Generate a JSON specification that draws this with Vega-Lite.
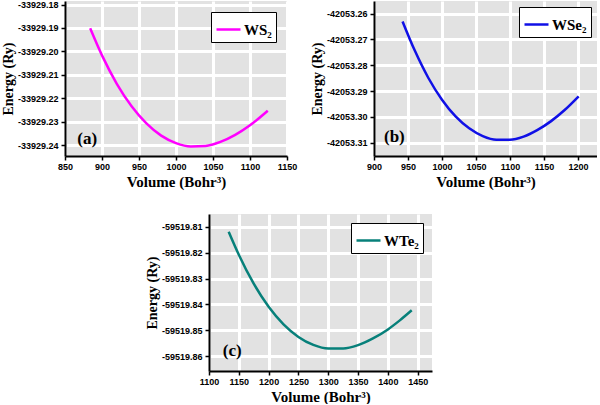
{
  "$schema": "https://vega.github.io/schema/vega-lite/v6.json",
  "padding": {"left": 1, "top": 0, "right": 0, "bottom": 0},
  "background": "white",
  "config": {
    "view": {"fill": "#e2e2e2", "stroke": null},
    "axis": {"grid": true, "tickCount": 30, "labelOverlap": false, "labelFlush": false, "labelFont": "Liberation Sans", "labelFontWeight": "bold", "labelFontSize": 9, "labelColor": "black", "titleFont": "Liberation Serif", "titleFontWeight": "bold", "titleColor": "black", "domainColor": "black", "domainWidth": 2, "tickColor": "black", "tickWidth": 1.5, "tickSize": 4, "gridColor": "#ffffff", "gridWidth": 3, "gridOpacity": 1},
    "axisX": {"titleFontSize": 15, "titlePadding": 3, "labelPadding": 2, "format": "d"},
    "axisY": {"titleFontSize": 14, "titlePadding": 2, "labelPadding": 3},
    "legend": {"fillColor": "white", "strokeColor": "black", "padding": 4, "labelFont": "Liberation Serif", "labelFontWeight": "bold", "labelFontSize": 15, "labelColor": "black", "symbolType": "stroke", "symbolStrokeWidth": 2.5, "symbolSize": 576, "offset": 11, "labelOffset": 2, "orient": "top-right"}
  },
  "datasets": {
    "a": [
      {"V": 884, "E": -33929.1901, "m": "WS₂"},
      {"V": 900, "E": -33929.2017, "m": "WS₂"},
      {"V": 920, "E": -33929.2138, "m": "WS₂"},
      {"V": 940, "E": -33929.2234, "m": "WS₂"},
      {"V": 960, "E": -33929.2307, "m": "WS₂"},
      {"V": 980, "E": -33929.2359, "m": "WS₂"},
      {"V": 1000, "E": -33929.2391, "m": "WS₂"},
      {"V": 1020, "E": -33929.2405, "m": "WS₂"},
      {"V": 1040, "E": -33929.2403, "m": "WS₂"},
      {"V": 1060, "E": -33929.2386, "m": "WS₂"},
      {"V": 1080, "E": -33929.2356, "m": "WS₂"},
      {"V": 1100, "E": -33929.2315, "m": "WS₂"},
      {"V": 1124, "E": -33929.2253, "m": "WS₂"}
    ],
    "b": [
      {"V": 942, "E": -42053.2630, "m": "WSe₂"},
      {"V": 960, "E": -42053.2743, "m": "WSe₂"},
      {"V": 980, "E": -42053.2849, "m": "WSe₂"},
      {"V": 1000, "E": -42053.2933, "m": "WSe₂"},
      {"V": 1020, "E": -42053.2998, "m": "WSe₂"},
      {"V": 1040, "E": -42053.3044, "m": "WSe₂"},
      {"V": 1060, "E": -42053.3074, "m": "WSe₂"},
      {"V": 1080, "E": -42053.3088, "m": "WSe₂"},
      {"V": 1100, "E": -42053.3088, "m": "WSe₂"},
      {"V": 1120, "E": -42053.3076, "m": "WSe₂"},
      {"V": 1140, "E": -42053.3051, "m": "WSe₂"},
      {"V": 1160, "E": -42053.3017, "m": "WSe₂"},
      {"V": 1180, "E": -42053.2974, "m": "WSe₂"},
      {"V": 1201, "E": -42053.2920, "m": "WSe₂"}
    ],
    "c": [
      {"V": 1133, "E": -59519.8119, "m": "WTe₂"},
      {"V": 1150, "E": -59519.8208, "m": "WTe₂"},
      {"V": 1175, "E": -59519.8320, "m": "WTe₂"},
      {"V": 1200, "E": -59519.8409, "m": "WTe₂"},
      {"V": 1225, "E": -59519.8477, "m": "WTe₂"},
      {"V": 1250, "E": -59519.8526, "m": "WTe₂"},
      {"V": 1275, "E": -59519.8557, "m": "WTe₂"},
      {"V": 1300, "E": -59519.8571, "m": "WTe₂"},
      {"V": 1325, "E": -59519.8571, "m": "WTe₂"},
      {"V": 1350, "E": -59519.8558, "m": "WTe₂"},
      {"V": 1375, "E": -59519.8532, "m": "WTe₂"},
      {"V": 1400, "E": -59519.8497, "m": "WTe₂"},
      {"V": 1420, "E": -59519.8462, "m": "WTe₂"},
      {"V": 1440, "E": -59519.8423, "m": "WTe₂"}
    ]
  },
  "resolve": {"scale": {"color": "independent", "x": "independent", "y": "independent"}, "legend": {"color": "independent"}, "axis": {"x": "independent", "y": "independent"}},
  "spacing": 25,
  "vconcat": [
    {
      "spacing": 13,
      "resolve": {"scale": {"color": "independent", "x": "independent", "y": "independent"}, "legend": {"color": "independent"}, "axis": {"x": "independent", "y": "independent"}},
      "hconcat": [
        {
          "width": 222,
          "height": 155,
          "layer": [
            {
              "data": {"name": "a"},
              "mark": {"type": "line", "strokeWidth": 2.5, "interpolate": "monotone"},
              "encoding": {
                "x": {"field": "V", "type": "quantitative", "scale": {"domain": [850, 1150], "nice": false, "zero": false}, "axis": {"title": "Volume (Bohr³)", "values": [850, 900, 950, 1000, 1050, 1100, 1150]}},
                "y": {"field": "E", "type": "quantitative", "scale": {"domain": [-33929.2446, -33929.1785], "nice": false, "zero": false}, "axis": {"title": "Energy (Ry)", "values": [-33929.18, -33929.19, -33929.2, -33929.21, -33929.22, -33929.23, -33929.24], "labelExpr": "replace(format(datum.value, '.2f'), '−', '-')"}},
                "color": {"field": "m", "type": "nominal", "scale": {"domain": ["WS₂"], "range": ["#ff00ff"]}, "legend": {"title": null}}
              }
            },
            {
              "data": {"values": [{"t": "(a)"}]},
              "mark": {"type": "text", "font": "Liberation Serif", "fontWeight": "bold", "fontSize": 17, "color": "black"},
              "encoding": {"x": {"datum": 880}, "y": {"datum": -33929.2372}, "text": {"field": "t"}}
            }
          ]
        },
        {
          "width": 223,
          "height": 155,
          "layer": [
            {
              "data": {"name": "b"},
              "mark": {"type": "line", "strokeWidth": 2.5, "interpolate": "monotone"},
              "encoding": {
                "x": {"field": "V", "type": "quantitative", "scale": {"domain": [900, 1228], "nice": false, "zero": false}, "axis": {"title": "Volume (Bohr³)", "values": [900, 950, 1000, 1050, 1100, 1150, 1200]}},
                "y": {"field": "E", "type": "quantitative", "scale": {"domain": [-42053.3151, -42053.2551], "nice": false, "zero": false}, "axis": {"title": "Energy (Ry)", "values": [-42053.26, -42053.27, -42053.28, -42053.29, -42053.3, -42053.31], "labelExpr": "replace(format(datum.value, '.2f'), '−', '-')"}},
                "color": {"field": "m", "type": "nominal", "scale": {"domain": ["WSe₂"], "range": ["#1010e6"]}, "legend": {"title": null, "offset": 6}}
              }
            },
            {
              "data": {"values": [{"t": "(b)"}]},
              "mark": {"type": "text", "font": "Liberation Serif", "fontWeight": "bold", "fontSize": 17, "color": "black"},
              "encoding": {"x": {"datum": 930}, "y": {"datum": -42053.3078}, "text": {"field": "t"}}
            }
          ]
        }
      ]
    },
    {
      "spacing": 0,
      "align": "none",
      "resolve": {"scale": {"color": "independent", "x": "independent", "y": "independent"}, "legend": {"color": "independent"}, "axis": {"x": "independent", "y": "independent"}},
      "hconcat": [
        {
          "width": 80,
          "height": 1,
          "view": {"fill": null, "stroke": null},
          "data": {"values": []},
          "mark": "point"
        },
        {
          "width": 223,
          "height": 157,
          "layer": [
            {
              "data": {"name": "c"},
              "mark": {"type": "line", "strokeWidth": 2.5, "interpolate": "monotone"},
              "encoding": {
                "x": {"field": "V", "type": "quantitative", "scale": {"domain": [1100, 1474], "nice": false, "zero": false}, "axis": {"title": "Volume (Bohr³)", "values": [1100, 1150, 1200, 1250, 1300, 1350, 1400, 1450]}},
                "y": {"field": "E", "type": "quantitative", "scale": {"domain": [-59519.8658, -59519.8050], "nice": false, "zero": false}, "axis": {"title": "Energy (Ry)", "values": [-59519.81, -59519.82, -59519.83, -59519.84, -59519.85, -59519.86], "labelExpr": "replace(format(datum.value, '.2f'), '−', '-')"}},
                "color": {"field": "m", "type": "nominal", "scale": {"domain": ["WTe₂"], "range": ["#07807a"]}, "legend": {"title": null, "offset": 9}}
              }
            },
            {
              "data": {"values": [{"t": "(c)"}]},
              "mark": {"type": "text", "font": "Liberation Serif", "fontWeight": "bold", "fontSize": 17, "color": "black"},
              "encoding": {"x": {"datum": 1139}, "y": {"datum": -59519.8582}, "text": {"field": "t"}}
            }
          ]
        }
      ]
    }
  ]
}
